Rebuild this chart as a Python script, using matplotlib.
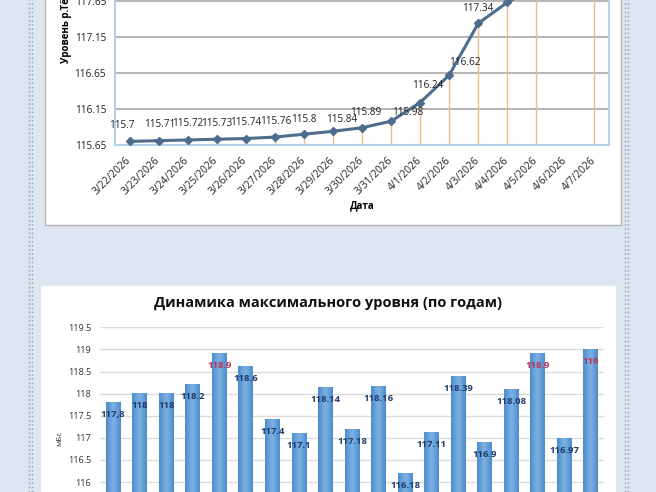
import numpy as np
import matplotlib
matplotlib.use("Agg")
import matplotlib.pyplot as plt
from matplotlib.patches import Rectangle
from matplotlib.lines import Line2D
from matplotlib.colors import LinearSegmentedColormap

plt.rcParams['font.family'] = ['Open Sans', 'DejaVu Sans']

# top chart: daily river level
dates = ['3/22/2026', '3/23/2026', '3/24/2026', '3/25/2026', '3/26/2026', '3/27/2026',
         '3/28/2026', '3/29/2026', '3/30/2026', '3/31/2026', '4/1/2026', '4/2/2026',
         '4/3/2026', '4/4/2026', '4/5/2026', '4/6/2026', '4/7/2026']
levels = [115.7, 115.71, 115.72, 115.73, 115.74, 115.76, 115.8, 115.84, 115.89, 115.98,
          116.24, 116.62, 117.34, 117.63, 117.86, np.nan, 118.0]
level_ticks = [115.65, 116.15, 116.65, 117.15, 117.65, 118.15]

# bottom chart: yearly maximum level
year_max = [117.8, 118, 118, 118.2, 118.9, 118.6, 117.4, 117.1, 118.14, 117.18, 118.16,
            116.18, 117.11, 118.39, 116.9, 118.08, 118.9, 116.97, 119]
year_labels = ['117,8', '118', '118', '118.2', '118.9', '118.6', '117.4', '117.1', '118.14',
               '117.18', '118.16', '116.18', '117.11', '118.39', '116.9', '118.08', '118.9',
               '116.97', '119']
red_labels = [4, 16, 18]
bar_ticks = [115, 115.5, 116, 116.5, 117, 117.5, 118, 118.5, 119, 119.5]
bar_tick_labels = ['115', '115.5', '116', '116.5', '117', '117.5', '118', '118.5', '119', '119.5']

W, H = 656, 492
fig = plt.figure(figsize=(W / 100, H / 100), dpi=100)
fig.patch.set_facecolor('#dde6f1')


def fx(x):
    return x / W


def fy(y):
    return 1 - y / H


# page decorations (behind the axes)
fig.add_artist(Rectangle((fx(45), fy(225)), fx(621) - fx(45), fy(-5) - fy(225),
                         transform=fig.transFigure, facecolor='white', edgecolor='#b5b5b5',
                         lw=1, zorder=-10))
fig.add_artist(Rectangle((fx(40), fy(500)), fx(616) - fx(40), fy(285) - fy(500),
                         transform=fig.transFigure, facecolor='white', edgecolor='#e4e9ef',
                         lw=0.8, zorder=-10))
for xx in (29, 32, 625, 628):
    fig.add_artist(Line2D([fx(xx), fx(xx)], [0, 1], transform=fig.transFigure,
                          color='#97a6ba', lw=1.0, linestyle=(0, (1.2, 1.8)), zorder=-10))

# ---- top line chart ----
px_per_unit = 72.0
ax = fig.add_axes([fx(115), fy(145), fx(609) - fx(115), (118.15 - 115.65) * px_per_unit / H])
ax.patch.set_alpha(0)
x = np.arange(len(dates))
ax.set_xlim(-0.5, len(dates) - 0.5)
ax.set_ylim(115.65, 118.15)
ax.set_yticks(level_ticks)
ax.set_yticklabels([f'{v:.2f}' for v in level_ticks])
ax.yaxis.grid(True, color='#a8a8a8', lw=1.2)
ax.set_axisbelow(True)
for s in ax.spines.values():
    s.set_color('#aed3ea')
    s.set_linewidth(1.5)
ax.tick_params(axis='y', length=0, pad=6.5, labelsize=7.2, labelcolor='#222222')
ax.set_xticks(x)
ax.set_xticklabels(dates, rotation=45, ha='right', va='center', rotation_mode='anchor')
ax.tick_params(axis='x', length=0, pad=10, labelsize=7.4, labelcolor='#222222')

ok = ~np.isnan(levels)
ax.vlines(x[ok], 115.65, np.array(levels)[ok], color='#e3be88', lw=1.0, zorder=2)
ax.plot(x, levels, color='#4e6d8d', lw=2.2, marker='D', ms=4.5, zorder=3)

# label offsets (px) relative to the marker
offs = [(-8, 16), (1, 16), (0, 16), (0, 16), (0, 16), (1, 16), (0, 15), (9, 12),
        (4, 15), (17, 9), (8, 17), (16, 13), (0, 15), (0, 16)]
for i, (dx, dy) in enumerate(offs):
    ax.annotate(f'{levels[i]:g}', (x[i], levels[i]), xytext=(dx * 0.72, dy * 0.72),
                textcoords='offset points', ha='center', va='center', fontsize=7.2,
                color='#222222', annotation_clip=False)

fig.text(fx(362), fy(206), 'Дата', ha='center', va='center', fontsize=7, fontweight='bold')
fig.text(fx(66), fy(63), 'Уровень р.Тёша, м', rotation=90, ha='center', va='bottom',
         fontsize=7, fontweight='bold')

# ---- bottom bar chart ----
bpx = 44.2
ax2 = fig.add_axes([fx(100), fy(482 + bpx), fx(604) - fx(100), 4.5 * bpx / H])
ax2.patch.set_alpha(0)
xb = np.arange(len(year_max))
grad = LinearSegmentedColormap.from_list('bar', ['#4f8ccc', '#7db2e3', '#4f8ccc'])
g = np.linspace(0, 1, 32).reshape(1, -1)
bw = 0.56
for i, v in enumerate(year_max):
    ax2.imshow(g, extent=[xb[i] - bw / 2, xb[i] + bw / 2, 115, v], aspect='auto',
               cmap=grad, zorder=2, interpolation='bilinear')
    col = '#c3324e' if i in red_labels else '#1f3c6c'
    ax2.annotate(year_labels[i], (xb[i], v), xytext=(0, -8.5), textcoords='offset points',
                 ha='center', va='center', fontsize=6.8, fontweight='bold', color=col, zorder=4)
ax2.set_xlim(-0.5, len(year_max) - 0.5)
ax2.set_ylim(115, 119.5)
ax2.set_yticks(bar_ticks)
ax2.set_yticklabels(bar_tick_labels)
ax2.set_xticks([])
ax2.yaxis.grid(True, color='#dcdcdc', lw=1.0)
ax2.set_axisbelow(True)
for s in ax2.spines.values():
    s.set_visible(False)
ax2.tick_params(axis='y', length=0, pad=6.5, labelsize=6.6, labelcolor='#333333')

fig.text(fx(328), fy(303), 'Динамика максимального уровня (по годам)', ha='center',
         va='center', fontsize=10.5, fontweight='bold', color='#111111')
fig.text(fx(60), fy(438), 'мБс', rotation=90, ha='center', va='center', fontsize=6,
         color='#333333')

fig.savefig('out.png', dpi=100, facecolor=fig.get_facecolor())
